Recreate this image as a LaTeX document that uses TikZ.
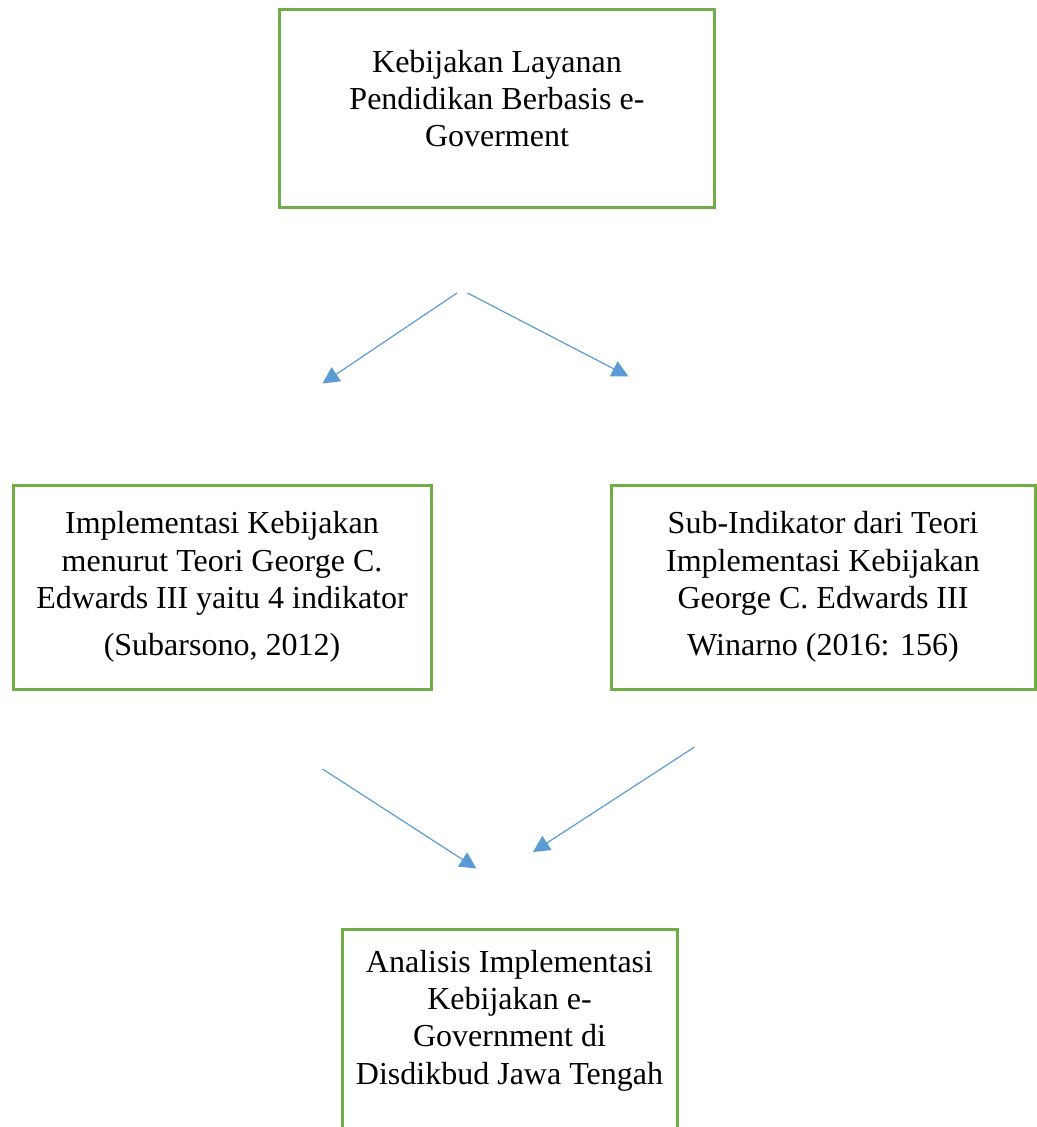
\documentclass[tikz,border=0pt]{standalone}
\usepackage{fontspec}
\setmainfont{Liberation Serif}
\usetikzlibrary{arrows.meta}
\definecolor{boxgreen}{HTML}{70AD47}
\definecolor{arrowblue}{HTML}{5B9BD5}
\tikzset{
  kotak/.style={draw=boxgreen, line width=2.25pt},
  teks/.style={align=center, inner sep=0pt, font=\fontsize{24}{28}\selectfont},
  panah/.style={arrowblue, line width=0.9pt, -{Triangle[length=12.5pt,width=12.5pt]}}
}
\begin{document}
\begin{tikzpicture}[x=0.75pt,y=-0.75pt]
\useasboundingbox (0,0) rectangle (1037,1127);
\clip (0,0) rectangle (1037,1127);
% boxes
\draw[kotak] (279.5,9.5) rectangle (714.5,207);
\draw[kotak] (13.5,485) rectangle (431,689.5);
\draw[kotak] (611.5,485) rectangle (1035,689.5);
\draw[kotak] (342.5,929) rectangle (677,1160);
% texts
\node[teks] (kebijakan) at (497,98.5) {Kebijakan Layanan\\Pendidikan Berbasis e-\\Goverment};
\node[teks] (edwards) at (222,587) {Implementasi Kebijakan\\menurut Teori George C.\\Edwards III yaitu 4 indikator\\[7.5pt](Subarsono, 2012)};
\node[teks] (subindikator) at (823,587) {Sub-Indikator dari Teori\\Implementasi Kebijakan\\George C. Edwards III\\[7.5pt]Winarno (2016: 156)};
\node[teks] (analisis) at (509.5,1020.5) {Analisis Implementasi\\Kebijakan e-\\Government di\\Disdikbud Jawa Tengah};
% arrows
\coordinate (A) at (457,293);
\coordinate (B) at (322.5,383.5);
\coordinate (C) at (467.5,293);
\coordinate (D) at (628.5,376.5);
\coordinate (E) at (322.5,769);
\coordinate (F) at (476.5,868.5);
\coordinate (G) at (694.5,747);
\coordinate (H) at (533,852);
\draw[panah] (A) -- (B);
\draw[panah] (C) -- (D);
\draw[panah] (E) -- (F);
\draw[panah] (G) -- (H);
\end{tikzpicture}
\end{document}
